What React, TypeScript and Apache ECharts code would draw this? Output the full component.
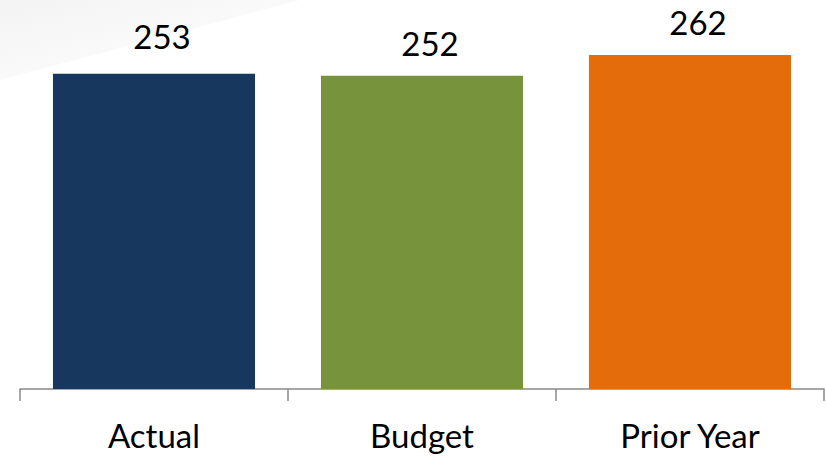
import React, { useEffect, useRef } from "react";
import * as echarts from "echarts";

const categories = ["Actual", "Budget", "Prior Year"];
const values = [253, 252, 262];
const barColors = ["#17375E", "#77933C", "#E46C0A"];
const labelDistances = [21, 16, 17];
const axisMin = 100;
const axisMax = 280;

export default function App() {
  const ref = useRef<HTMLDivElement>(null);
  useEffect(() => {
    if (!ref.current) return;
    const chart = echarts.init(ref.current, null, { renderer: "svg" });
    chart.setOption({
      animation: false,
      backgroundColor: "#ffffff",
      graphic: [
        {
          type: "polygon",
          silent: true,
          z: -10,
          shape: { points: [[0, 0], [300, 0], [0, 80]] },
          style: {
            fill: new echarts.graphic.LinearGradient(0, 0, 1, 1, [
              { offset: 0, color: "#f3f3f3" },
              { offset: 0.45, color: "#f9f9f9" },
              { offset: 1, color: "#ffffff" },
            ]),
          },
        },
      ],
      grid: { left: 20, right: 2, top: 18, bottom: 67, containLabel: false },
      xAxis: {
        type: "category",
        data: categories,
        axisLine: { lineStyle: { color: "#898989", width: 1.5 } },
        axisTick: { show: true, length: 12, lineStyle: { color: "#898989", width: 1.5 } },
        axisLabel: {
          color: "#000000",
          fontFamily: "Lato",
          fontSize: 33,
          margin: 29,
        },
      },
      yAxis: {
        type: "value",
        min: axisMin,
        max: axisMax,
        show: false,
        splitLine: { show: false },
      },
      series: [
        {
          type: "bar",
          barCategoryGap: "24.6%",
          data: values.map((v, i) => ({
            value: v,
            itemStyle: { color: barColors[i] },
            label: { distance: labelDistances[i] },
          })),
          label: {
            show: true,
            position: "top",
            offset: [8, 0],
            color: "#000000",
            fontFamily: "Lato",
            fontSize: 33,
          },
        },
      ],
    });
    return () => chart.dispose();
  }, []);
  return (
    <div
      ref={ref}
      style={{ position: "fixed", left: 0, top: 0, width: 826, height: 456 }}
    />
  );
}
